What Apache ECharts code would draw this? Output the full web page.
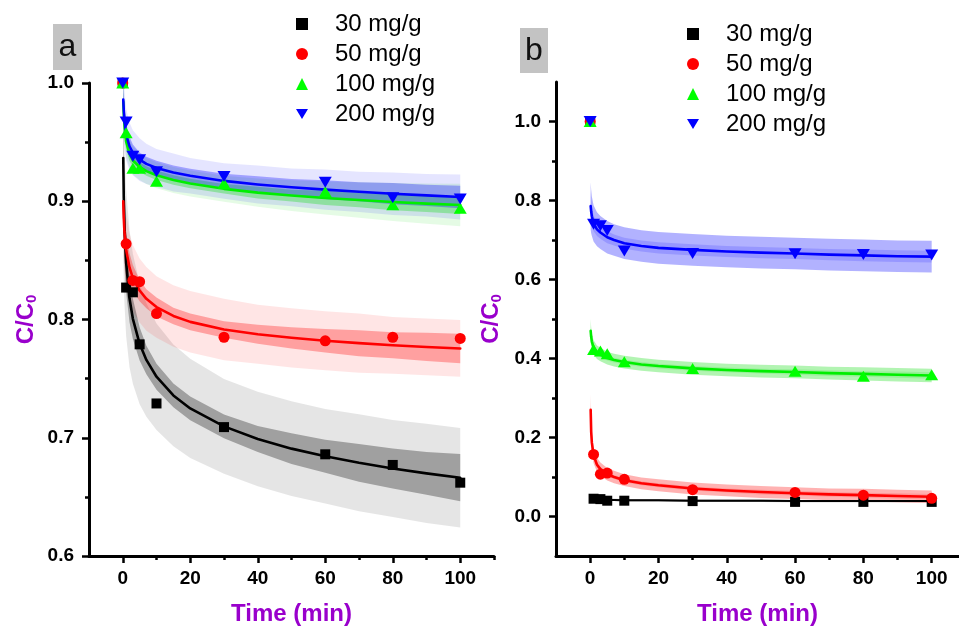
<!DOCTYPE html>
<html>
<head>
<meta charset="utf-8">
<script src="https://cdn.jsdelivr.net/npm/echarts@6/dist/echarts.min.js"></script>
<style>html,body{margin:0;padding:0;background:#fff}#c{width:959px;height:631px}</style>
</head>
<body>
<div id="c"></div>
<script>
// ---------- data ----------
const seriesNames = ['30 mg/g', '50 mg/g', '100 mg/g', '200 mg/g'];
const tPts = [0, 1, 3, 5, 10, 30, 60, 80, 100];

// panel a: measured points
const a30 = [1.0, 0.827, 0.823, 0.779, 0.729, 0.709, 0.686, 0.677, 0.662];
const a50 = [1.0, 0.864, 0.833, 0.832, 0.805, 0.785, 0.782, 0.785, 0.784];
const a100 = [1.0, 0.958, 0.928, 0.928, 0.917, 0.915, 0.908, 0.897, 0.894];
const a200 = [1.0, 0.967, 0.938, 0.935, 0.925, 0.921, 0.916, 0.903, 0.902];

// panel b: measured points
const b30 = [1.0, 0.045, 0.044, 0.040, 0.040, 0.039, 0.037, 0.037, 0.037];
const b50 = [1.0, 0.157, 0.107, 0.110, 0.094, 0.068, 0.061, 0.054, 0.046];
const b100 = [1.0, 0.423, 0.419, 0.412, 0.392, 0.375, 0.368, 0.355, 0.359];
const b200 = [1.0, 0.740, 0.736, 0.724, 0.672, 0.666, 0.665, 0.663, 0.662];

// fitted curves and band half-widths
const tFit = [0.15, 0.3, 0.5, 1, 2, 3, 5, 7, 10, 15, 20, 30, 40, 50, 60, 70, 80, 90, 100];

const fitA30 = [0.9366, 0.9032, 0.8794, 0.8480, 0.8177, 0.8006, 0.7794, 0.7658, 0.7516, 0.7358, 0.7248, 0.7096, 0.6990, 0.6908, 0.6843, 0.6788, 0.6740, 0.6699, 0.6662];
const predA30 = [0.075, 0.070, 0.066, 0.062, 0.058, 0.055, 0.051, 0.048, 0.045, 0.043, 0.042, 0.040, 0.040, 0.040, 0.040, 0.041, 0.041, 0.042, 0.042];
const confA30 = [0.050, 0.036, 0.030, 0.025, 0.020, 0.017, 0.014, 0.012, 0.011, 0.010, 0.010, 0.010, 0.011, 0.013, 0.014, 0.016, 0.017, 0.018, 0.020];

const fitA50 = [0.9000, 0.8860, 0.8740, 0.8590, 0.8440, 0.8350, 0.8245, 0.8175, 0.8105, 0.8030, 0.7980, 0.7915, 0.7875, 0.7845, 0.7820, 0.7800, 0.7782, 0.7768, 0.7755];
const predA50 = [0.040, 0.037, 0.034, 0.031, 0.029, 0.028, 0.027, 0.027, 0.026, 0.026, 0.026, 0.026, 0.025, 0.025, 0.025, 0.025, 0.024, 0.024, 0.024];
const confA50 = [0.030, 0.024, 0.020, 0.015, 0.012, 0.011, 0.009, 0.008, 0.008, 0.007, 0.007, 0.007, 0.008, 0.009, 0.010, 0.011, 0.011, 0.012, 0.0125];

const fitA100 = [0.9840, 0.9740, 0.9650, 0.9505, 0.9400, 0.9345, 0.9290, 0.9255, 0.9220, 0.9180, 0.9150, 0.9105, 0.9073, 0.9048, 0.9028, 0.9010, 0.8994, 0.8980, 0.8968];
const predA100 = [0.020, 0.017, 0.015, 0.013, 0.012, 0.012, 0.011, 0.011, 0.011, 0.011, 0.011, 0.011, 0.012, 0.013, 0.014, 0.015, 0.016, 0.017, 0.018];
const confA100 = [0.015, 0.011, 0.009, 0.007, 0.006, 0.005, 0.004, 0.004, 0.004, 0.004, 0.004, 0.004, 0.005, 0.005, 0.006, 0.006, 0.007, 0.007, 0.0075];

const fitA200 = [0.9860, 0.9770, 0.9690, 0.9565, 0.9465, 0.9410, 0.9352, 0.9316, 0.9282, 0.9243, 0.9215, 0.9172, 0.9142, 0.9118, 0.9098, 0.9080, 0.9064, 0.9050, 0.9036];
const predA200 = [0.030, 0.027, 0.025, 0.022, 0.020, 0.019, 0.018, 0.017, 0.016, 0.016, 0.015, 0.015, 0.016, 0.016, 0.017, 0.017, 0.018, 0.018, 0.019];
const confA200 = [0.020, 0.015, 0.012, 0.009, 0.008, 0.007, 0.006, 0.006, 0.006, 0.006, 0.006, 0.006, 0.007, 0.007, 0.008, 0.008, 0.009, 0.009, 0.0095];

const fitB30 = [0.046, 0.045, 0.045, 0.044, 0.043, 0.043, 0.042, 0.042, 0.041, 0.041, 0.041, 0.040, 0.040, 0.040, 0.039, 0.039, 0.039, 0.039, 0.039];
const predB30 = [0.004, 0.004, 0.003, 0.003, 0.003, 0.003, 0.003, 0.003, 0.003, 0.003, 0.003, 0.003, 0.003, 0.003, 0.003, 0.003, 0.003, 0.003, 0.003];
const confB30 = [0.002, 0.002, 0.0015, 0.0015, 0.0015, 0.0015, 0.0015, 0.0015, 0.0015, 0.0015, 0.0015, 0.0015, 0.0015, 0.0015, 0.0015, 0.0015, 0.0015, 0.0015, 0.0015];

const fitB50 = [0.270, 0.215, 0.187, 0.155, 0.131, 0.120, 0.107, 0.100, 0.092, 0.084, 0.079, 0.071, 0.066, 0.062, 0.059, 0.056, 0.054, 0.052, 0.050];
const predB50 = [0.040, 0.030, 0.025, 0.020, 0.018, 0.017, 0.016, 0.016, 0.015, 0.015, 0.015, 0.015, 0.015, 0.015, 0.015, 0.015, 0.016, 0.016, 0.016];
const confB50 = [0.020, 0.015, 0.012, 0.009, 0.007, 0.006, 0.005, 0.005, 0.005, 0.005, 0.005, 0.005, 0.005, 0.006, 0.006, 0.006, 0.006, 0.007, 0.007];

const fitB100 = [0.470, 0.455, 0.443, 0.428, 0.416, 0.410, 0.401, 0.396, 0.391, 0.385, 0.381, 0.375, 0.371, 0.368, 0.366, 0.363, 0.361, 0.359, 0.357];
const predB100 = [0.030, 0.024, 0.020, 0.018, 0.017, 0.017, 0.016, 0.016, 0.016, 0.016, 0.016, 0.016, 0.016, 0.016, 0.016, 0.016, 0.017, 0.017, 0.017];
const confB100 = [0.015, 0.011, 0.009, 0.008, 0.007, 0.006, 0.006, 0.006, 0.006, 0.006, 0.006, 0.006, 0.006, 0.006, 0.007, 0.007, 0.007, 0.008, 0.008];

const fitB200 = [0.786, 0.772, 0.760, 0.742, 0.727, 0.719, 0.707, 0.700, 0.692, 0.685, 0.680, 0.675, 0.671, 0.668, 0.666, 0.663, 0.661, 0.659, 0.658];
const predB200 = [0.060, 0.055, 0.050, 0.046, 0.043, 0.042, 0.041, 0.040, 0.040, 0.040, 0.040, 0.040, 0.040, 0.040, 0.040, 0.040, 0.040, 0.040, 0.040];
const confB200 = [0.040, 0.030, 0.025, 0.020, 0.017, 0.016, 0.015, 0.014, 0.014, 0.014, 0.014, 0.014, 0.014, 0.014, 0.014, 0.014, 0.015, 0.015, 0.015];

// axis ticks
const xMajor = [0, 20, 40, 60, 80, 100];
const xMinorA = [10, 30, 50, 70, 90, 110];
const xMinorB = [10, 30, 50, 70, 90];
const yMajorA = [0.6, 0.7, 0.8, 0.9, 1.0];
const yMinorA = [0.65, 0.75, 0.85, 0.95];
const yMajorB = [0.0, 0.2, 0.4, 0.6, 0.8, 1.0];
const yMinorB = [0.1, 0.3, 0.5, 0.7, 0.9];

// ---------- styling ----------
const FF = "'Liberation Sans', Arial, Helvetica, sans-serif";
const PURPLE = '#9900cc';
const colorsRGB = ['0,0,0', '255,0,0', '0,220,0', '0,0,255'];
const lineColors = ['#000000', '#ff0000', '#00ee00', '#0000ff'];
const markerColors = ['#000000', '#ff0000', '#00ff00', '#0000ff'];
const symbols = ['rect', 'circle', 'triangle', 'path://M0,0 L12,0 L6,10 Z'];
const symSizes = [10, 11, [13, 11], [13, 11]];

function band(panel, fit, hw, fill, z) {
  const lo = fit.map((v, i) => v - hw[i]);
  const hi = fit.map((v, i) => v + hw[i]);
  return {
    type: 'custom', xAxisIndex: panel * 2, yAxisIndex: panel * 2, z: z, silent: true, clip: true,
    data: tFit.map((t, i) => [t, lo[i], hi[i]]),
    encode: { x: 0, y: [1, 2] },
    renderItem: function (params, api) {
      if (params.dataIndex !== 0) return null;
      const pts = [];
      for (let i = 0; i < tFit.length; i++) pts.push(api.coord([tFit[i], hi[i]]));
      for (let i = tFit.length - 1; i >= 0; i--) pts.push(api.coord([tFit[i], lo[i]]));
      return { type: 'polygon', shape: { points: pts }, style: { fill: fill } };
    }
  };
}
function fitLine(panel, k, fit, width) {
  return {
    type: 'line', name: seriesNames[k] + ' fit', xAxisIndex: panel * 2, yAxisIndex: panel * 2,
    z: 3, silent: true, showSymbol: false, symbol: 'none', smooth: false,
    lineStyle: { color: lineColors[k], width: width, join: 'round', cap: 'round' },
    data: tFit.map((t, i) => [t, fit[i]])
  };
}
function pts(panel, k, vals) {
  return {
    type: 'scatter', name: seriesNames[k], xAxisIndex: panel * 2, yAxisIndex: panel * 2,
    z: 4, clip: false, symbol: symbols[k], symbolSize: symSizes[k],
    itemStyle: { color: markerColors[k], opacity: 1 },
    data: tPts.map((t, i) => [t, vals[i]])
  };
}

const seriesList = [];
const A = { fit: [fitA30, fitA50, fitA100, fitA200], pred: [predA30, predA50, predA100, predA200], conf: [confA30, confA50, confA100, confA200], pts: [a30, a50, a100, a200] };
const B = { fit: [fitB30, fitB50, fitB100, fitB200], pred: [predB30, predB50, predB100, predB200], conf: [confB30, confB50, confB100, confB200], pts: [b30, b50, b100, b200] };
[A, B].forEach((P, panel) => {
  const pa = panel === 0 ? [0.10, 0.30] : [0.30, 0.15];
  for (let k = 0; k < 4; k++) {
    seriesList.push(band(panel, P.fit[k], P.pred[k], 'rgba(' + colorsRGB[k] + ',' + pa[0] + ')', 1));
    seriesList.push(band(panel, P.fit[k], P.conf[k], 'rgba(' + colorsRGB[k] + ',' + pa[1] + ')', 2));
  }
  for (let k = 0; k < 4; k++) seriesList.push(fitLine(panel, k, P.fit[k], (panel === 1 && k === 0) ? 2 : 2.6));
  for (let k = 0; k < 4; k++) seriesList.push(pts(panel, k, P.pts[k]));
});

const tickStyle = { color: '#000', width: 2.5 };
function xAxes(grid, max, minor) {
  return [
    { gridIndex: grid, type: 'value', position: 'bottom', min: -10, max: max,
      axisLine: { onZero: false, lineStyle: { color: '#000', width: 3 } },
      axisTick: { customValues: xMajor, length: 7, lineStyle: tickStyle },
      axisLabel: { customValues: xMajor, margin: 13, color: '#000', fontWeight: 'bold', fontSize: 19, fontFamily: FF },
      splitLine: { show: false },
      name: 'Time (min)', nameLocation: 'middle', nameGap: 46,
      nameTextStyle: { color: PURPLE, fontWeight: 'bold', fontSize: 24, fontFamily: FF } },
    { gridIndex: grid, type: 'value', position: 'bottom', min: -10, max: max,
      axisLine: { show: false, onZero: false },
      axisTick: { show: true, customValues: minor, length: 4, lineStyle: tickStyle },
      axisLabel: { show: false }, splitLine: { show: false } }
  ];
}
function yAxes(grid, min, max, major, minor, gap) {
  return [
    { gridIndex: grid, type: 'value', position: 'left', min: min, max: max,
      axisLine: { onZero: false, lineStyle: { color: '#000', width: 3 } },
      axisTick: { customValues: major, length: 7, lineStyle: tickStyle },
      axisLabel: { customValues: major, margin: 15, color: '#000', fontWeight: 'bold', fontSize: 19, fontFamily: FF,
        formatter: v => Number(v).toFixed(1) },
      splitLine: { show: false },
      name: '{m|C/C}{s|0}', nameLocation: 'middle', nameGap: gap,
      nameTextStyle: { color: PURPLE, fontWeight: 'bold', fontSize: 24, fontFamily: FF,
        rich: { m: { color: PURPLE, fontWeight: 'bold', fontSize: 24, fontFamily: FF },
                s: { color: PURPLE, fontWeight: 'bold', fontSize: 15, fontFamily: FF, padding: [10, 0, 0, 0] } } } },
    { gridIndex: grid, type: 'value', position: 'left', min: min, max: max,
      axisLine: { show: false, onZero: false },
      axisTick: { show: true, customValues: minor, length: 4, lineStyle: tickStyle },
      axisLabel: { show: false }, splitLine: { show: false } }
  ];
}

const legendCommon = {
  data: seriesNames, orient: 'vertical', padding: 0, itemWidth: 12, itemHeight: 12, itemGap: 6,
  selectedMode: false,
  textStyle: { fontSize: 24, lineHeight: 24, fontFamily: FF, color: '#000', padding: [0, 0, 0, 22] }
};

const option = {
  animation: false,
  backgroundColor: '#ffffff',
  grid: [
    { left: 89, top: 83, width: 405, height: 475 },
    { left: 556, top: 82, width: 403, height: 475 }
  ],
  xAxis: [...xAxes(0, 110, xMinorA), ...xAxes(1, 108, xMinorB)],
  yAxis: [...yAxes(0, 0.6, 1.0, yMajorA, yMinorA, 50), ...yAxes(1, -0.1, 1.1, yMajorB, yMinorB, 52)],
  legend: [
    Object.assign({}, legendCommon, { left: 296, top: 12 }),
    Object.assign({}, legendCommon, { left: 687, top: 22 })
  ],
  graphic: [
    { type: 'rect', shape: { x: 53, y: 24, width: 29, height: 46 }, style: { fill: '#c3c3c3' } },
    { type: 'text', x: 67.5, y: 47, style: { text: 'a', fontSize: 32, fontFamily: FF, fill: '#111', align: 'center', verticalAlign: 'middle' } },
    { type: 'rect', shape: { x: 520, y: 28, width: 28, height: 45 }, style: { fill: '#c3c3c3' } },
    { type: 'text', x: 534, y: 51, style: { text: 'b', fontSize: 32, fontFamily: FF, fill: '#111', align: 'center', verticalAlign: 'middle' } }
  ],
  series: seriesList
};

const chart = echarts.init(document.getElementById('c'), null, { renderer: 'canvas' });
chart.setOption(option);
</script>
</body>
</html>
